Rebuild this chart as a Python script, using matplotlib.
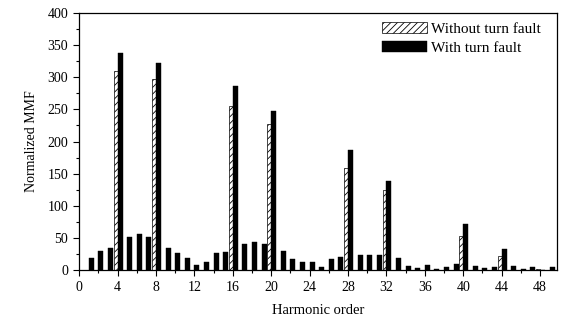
import numpy as np
import matplotlib.pyplot as plt
from matplotlib.ticker import MultipleLocator

plt.rcParams['font.family'] = ['Liberation Serif', 'DejaVu Serif']
plt.rcParams['hatch.linewidth'] = 0.6

# harmonic orders and values
orders = list(range(1, 50))
with_fault = [19, 30, 34, 338, 51, 56, 51, 323, 34, 26,
              18, 8, 12, 26, 28, 287, 41, 44, 41, 247,
              29, 17, 12, 12, 5, 17, 20, 187, 24, 23,
              23, 139, 18, 7, 3, 8, 2, 5, 10, 72,
              7, 3, 5, 33, 6, 1, 4, 0, 5]
healthy_orders = [4, 8, 16, 20, 28, 32, 40, 44, 48]
without_fault = [310, 298, 256, 227, 159, 124, 53, 22, 1]

fig = plt.figure(figsize=(5.62, 3.22), dpi=100)
ax = fig.add_axes([0.1411, 0.1615, 0.8506, 0.798])

x1 = np.array(healthy_orders)
x2 = np.array(orders)
ax.bar(x1 - 0.2, without_fault, width=0.4, color='white', edgecolor='black',
       linewidth=0.5, hatch='/////', label='Without turn fault')
ax.bar(x2 + 0.26, with_fault, width=0.52, color='black', edgecolor='black',
       linewidth=0.3, label='With turn fault')

ax.set_xlim(0, 49.8)
ax.set_ylim(0, 400)
ax.xaxis.set_major_locator(MultipleLocator(4))
ax.xaxis.set_minor_locator(MultipleLocator(2))
ax.yaxis.set_major_locator(MultipleLocator(50))
ax.yaxis.set_minor_locator(MultipleLocator(25))
ax.tick_params(which='both', direction='out', top=False, right=False,
               labelsize=10, width=0.8)
ax.tick_params(which='major', length=4.5)
ax.tick_params(which='minor', length=2.5)
for s in ax.spines.values():
    s.set_linewidth(0.9)

ax.set_xlabel('Harmonic order', fontsize=10.5, labelpad=7)
ax.set_ylabel('Normalized MMF', fontsize=10, labelpad=7)

ax.legend(loc='upper right', frameon=False, fontsize=11, handlelength=2.95,
          handleheight=0.75, handletextpad=0.25, labelspacing=0.3,
          borderaxespad=0.2, bbox_to_anchor=(0.985, 1.0))

fig.savefig('out.png', dpi=100)
